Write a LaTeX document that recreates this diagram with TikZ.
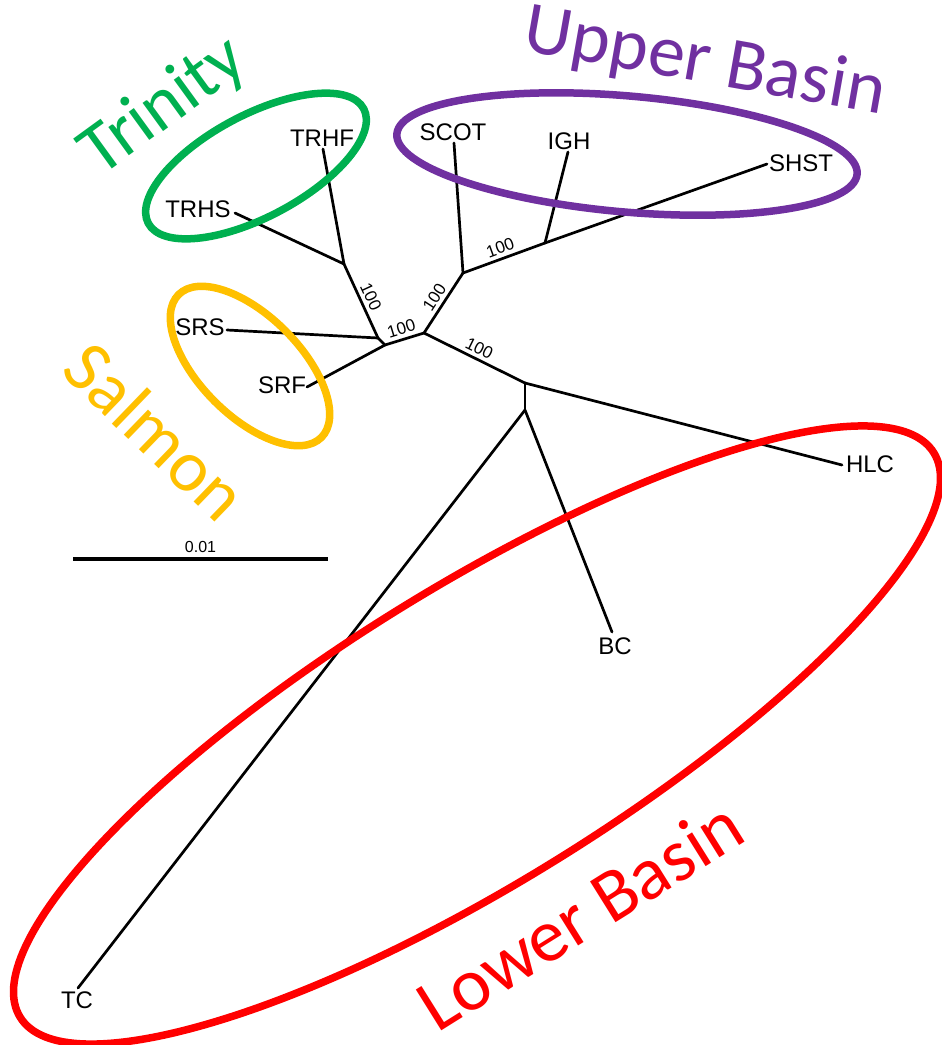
\documentclass[tikz,border=0pt]{standalone}
\usepackage{fontspec}
\setmainfont{Liberation Sans}
\newfontfamily\groupfont{Carlito}
\definecolor{trinitygreen}{HTML}{00B050}
\definecolor{upperpurple}{HTML}{7030A0}
\definecolor{salmonyellow}{HTML}{FFC000}
\definecolor{lowerred}{HTML}{FF0000}
\begin{document}
\begin{tikzpicture}[x=1pt,y=-1pt,
  branch/.style={line width=2.7pt, line cap=round, line join=round},
  taxon/.style={font=\fontsize{24}{28}\selectfont, inner sep=0pt},
  support/.style={font=\fontsize{17}{20}\selectfont, sloped, above=1pt, inner sep=2.5pt},
  group/.style={inner sep=0pt},
  ring/.style={line width=7.5pt}]
\useasboundingbox (0,0) rectangle (942,1045);

% internal nodes of the tree
\coordinate (nC) at (378,338);
\coordinate (nB) at (385,345);
\coordinate (nA) at (424,333);
\coordinate (nT) at (344,264);
\coordinate (nD) at (463,273);
\coordinate (nE) at (545,243);
\coordinate (nF) at (525,383);
\coordinate (nG) at (525,410);

% tips
\coordinate (lTRHF) at (323,149);
\coordinate (lTRHS) at (235,213);
\coordinate (lSRS) at (227,330);
\coordinate (lSRF) at (307,387);
\coordinate (lSCOT) at (454,143);
\coordinate (lIGH) at (568,152);
\coordinate (lSHST) at (767,164);
\coordinate (lHLC) at (842,465);
\coordinate (lBC) at (612,632);
\coordinate (lTC) at (78,988);

% tip labels
\node[taxon] (TRHF) at (322,138) {TRHF};
\node[taxon] (TRHS) at (198,209) {TRHS};
\node[taxon] (SRS) at (200,327) {SRS};
\node[taxon] (SRF) at (282,385) {SRF};
\node[taxon] (SCOT) at (453,132) {SCOT};
\node[taxon] (IGH) at (569,141) {IGH};
\node[taxon] (SHST) at (801,163) {SHST};
\node[taxon] (HLC) at (870,464) {HLC};
\node[taxon] (BC) at (615,646) {BC};
\node[taxon] (TC) at (77,1000) {TC};

% branches
\draw[branch] (nB) -- (nC);
\draw[branch] (nC) -- (lSRS);
\draw[branch] (nT) -- node[support] {100} (nC);
\draw[branch] (nT) -- (lTRHF);
\draw[branch] (nT) -- (lTRHS);
\draw[branch] (nB) -- (lSRF);
\draw[branch] (nB) -- node[support] {100} (nA);
\draw[branch] (nA) -- node[support] {100} (nD);
\draw[branch] (nD) -- (lSCOT);
\draw[branch] (nD) -- node[support] {100} (nE);
\draw[branch] (nE) -- (lIGH);
\draw[branch] (nE) -- (lSHST);
\draw[branch] (nA) -- node[support] {100} (nF);
\draw[branch] (nF) -- (lHLC);
\draw[branch] (nF) -- (nG);
\draw[branch] (nG) -- (lBC);
\draw[branch] (nG) -- (lTC);

% scale bar
\coordinate (sbL) at (73,559);
\coordinate (sbR) at (328,559);
\draw[line width=4pt] (sbL) -- node[above=3pt, inner sep=1pt, font=\fontsize{16}{18}\selectfont] (sbText) {0.01} (sbR);

% group outlines
\draw[ring, trinitygreen, rotate around={28:(256,166)}] (256,166) ellipse (122 and 51);
\draw[ring, upperpurple, rotate around={-5:(627,154)}] (627,154) ellipse (231 and 58);
\draw[ring, salmonyellow, rotate around={-45:(250,366)}] (250,366) ellipse (101 and 50);
\draw[ring, lowerred, rotate around={31.7:(477,735)}] (477,735) ellipse (537 and 148);

% group names
\node[group, text=trinitygreen, rotate=36, font=\groupfont\fontsize{73}{86}\selectfont] (gTrinity) at (164,107) {Trinity};
\node[group, text=upperpurple, rotate=-10, font=\groupfont\fontsize{74}{86}\selectfont] (gUpper) at (705,63) {Upper Basin};
\node[group, text=salmonyellow, rotate=-44, font=\groupfont\fontsize{73}{86}\selectfont] (gSalmon) at (156,431) {Salmon};
\node[group, text=lowerred, rotate=32, font=\groupfont\fontsize{75}{88}\selectfont] (gLower) at (580,915) {Lower Basin};
\end{tikzpicture}
\end{document}
